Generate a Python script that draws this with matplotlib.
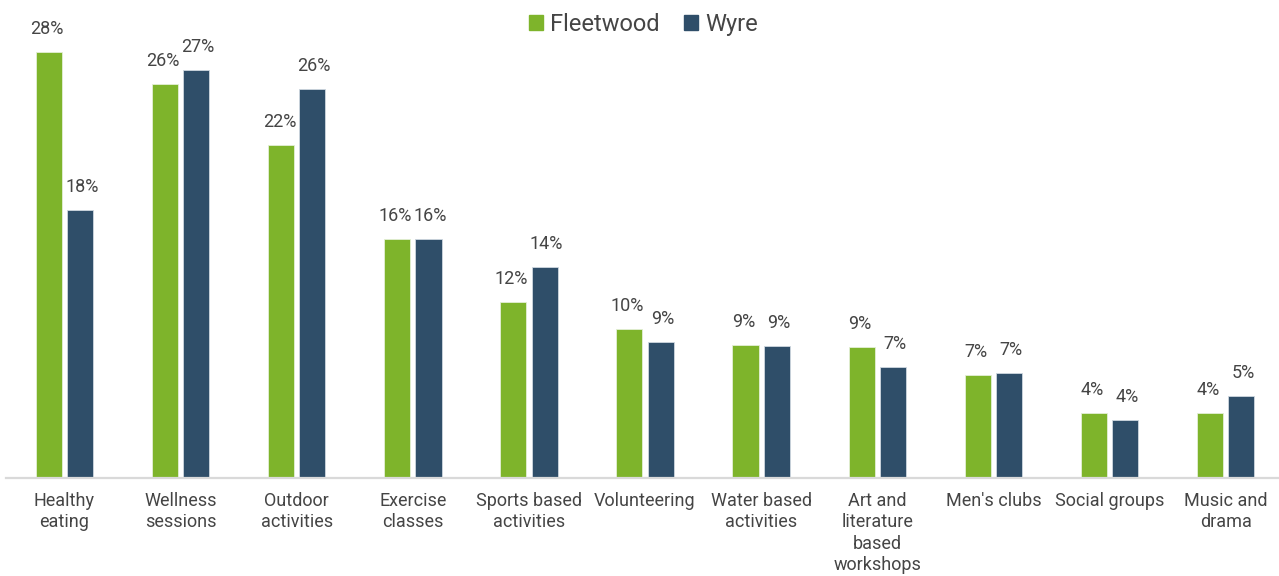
import numpy as np
import matplotlib.pyplot as plt
from matplotlib.patches import Patch

# 活动类别
categories = ["Healthy\neating", "Wellness\nsessions", "Outdoor\nactivities", "Exercise\nclasses",
              "Sports based\nactivities", "Volunteering", "Water based\nactivities",
              "Art and\nliterature\nbased\nworkshops", "Men's clubs", "Social groups", "Music and\ndrama"]
# 两个地区的百分比
fleetwood = [28.0, 25.9, 21.9, 15.7, 11.6, 9.8, 8.75, 8.6, 6.8, 4.3, 4.3]
wyre = [17.6, 26.8, 25.6, 15.7, 13.9, 8.95, 8.7, 7.3, 6.9, 3.8, 5.4]
series_names = ["Fleetwood", "Wyre"]

green = "#7EB42B"
navy = "#2F4E69"
txt = "#454545"

plt.rcParams['font.family'] = ['Roboto', 'DejaVu Sans']

fig = plt.figure(figsize=(12.79, 5.76), dpi=100)
ax = fig.add_axes([0.005, 0.170, 0.995, 0.819])

x = np.arange(len(categories))
w = 0.225
off = 0.135
b1 = ax.bar(x - off, fleetwood, w, color=green, edgecolor="#e4efd6", linewidth=0.6)
b2 = ax.bar(x + off, wyre, w, color=navy, edgecolor="#cfd8e0", linewidth=0.6)

# 柱顶标注数值，两组标签略微向外错开
for bars, vals, dx in [(b1, fleetwood, -1.2), (b2, wyre, 1.2)]:
    for r, v in zip(bars, vals):
        ax.annotate(f"{v:.0f}%", (r.get_x() + r.get_width() / 2, v), xytext=(dx, 10),
                    textcoords="offset points", ha="center", va="bottom",
                    fontsize=13, color=txt)

ax.set_xlim(-0.5, 10.46)
ax.set_ylim(0, 31)
ax.set_xticks(x)
ax.set_xticklabels(categories, fontsize=13, color=txt, linespacing=1.25)
ax.tick_params(axis="x", length=0, pad=10)
ax.set_yticks([])
for s in ["left", "right", "top"]:
    ax.spines[s].set_visible(False)
ax.spines["bottom"].set_color("#d9d9d9")
ax.spines["bottom"].set_linewidth(1.6)

handles = [Patch(color=green), Patch(color=navy)]
fig.legend(handles, series_names, loc="center", bbox_to_anchor=(0.503, 0.958), ncol=2,
           frameon=False, fontsize=17, handlelength=0.6, handleheight=0.6,
           handletextpad=0.3, columnspacing=1.0, labelcolor=txt)

fig.savefig("out.png", dpi=100)
